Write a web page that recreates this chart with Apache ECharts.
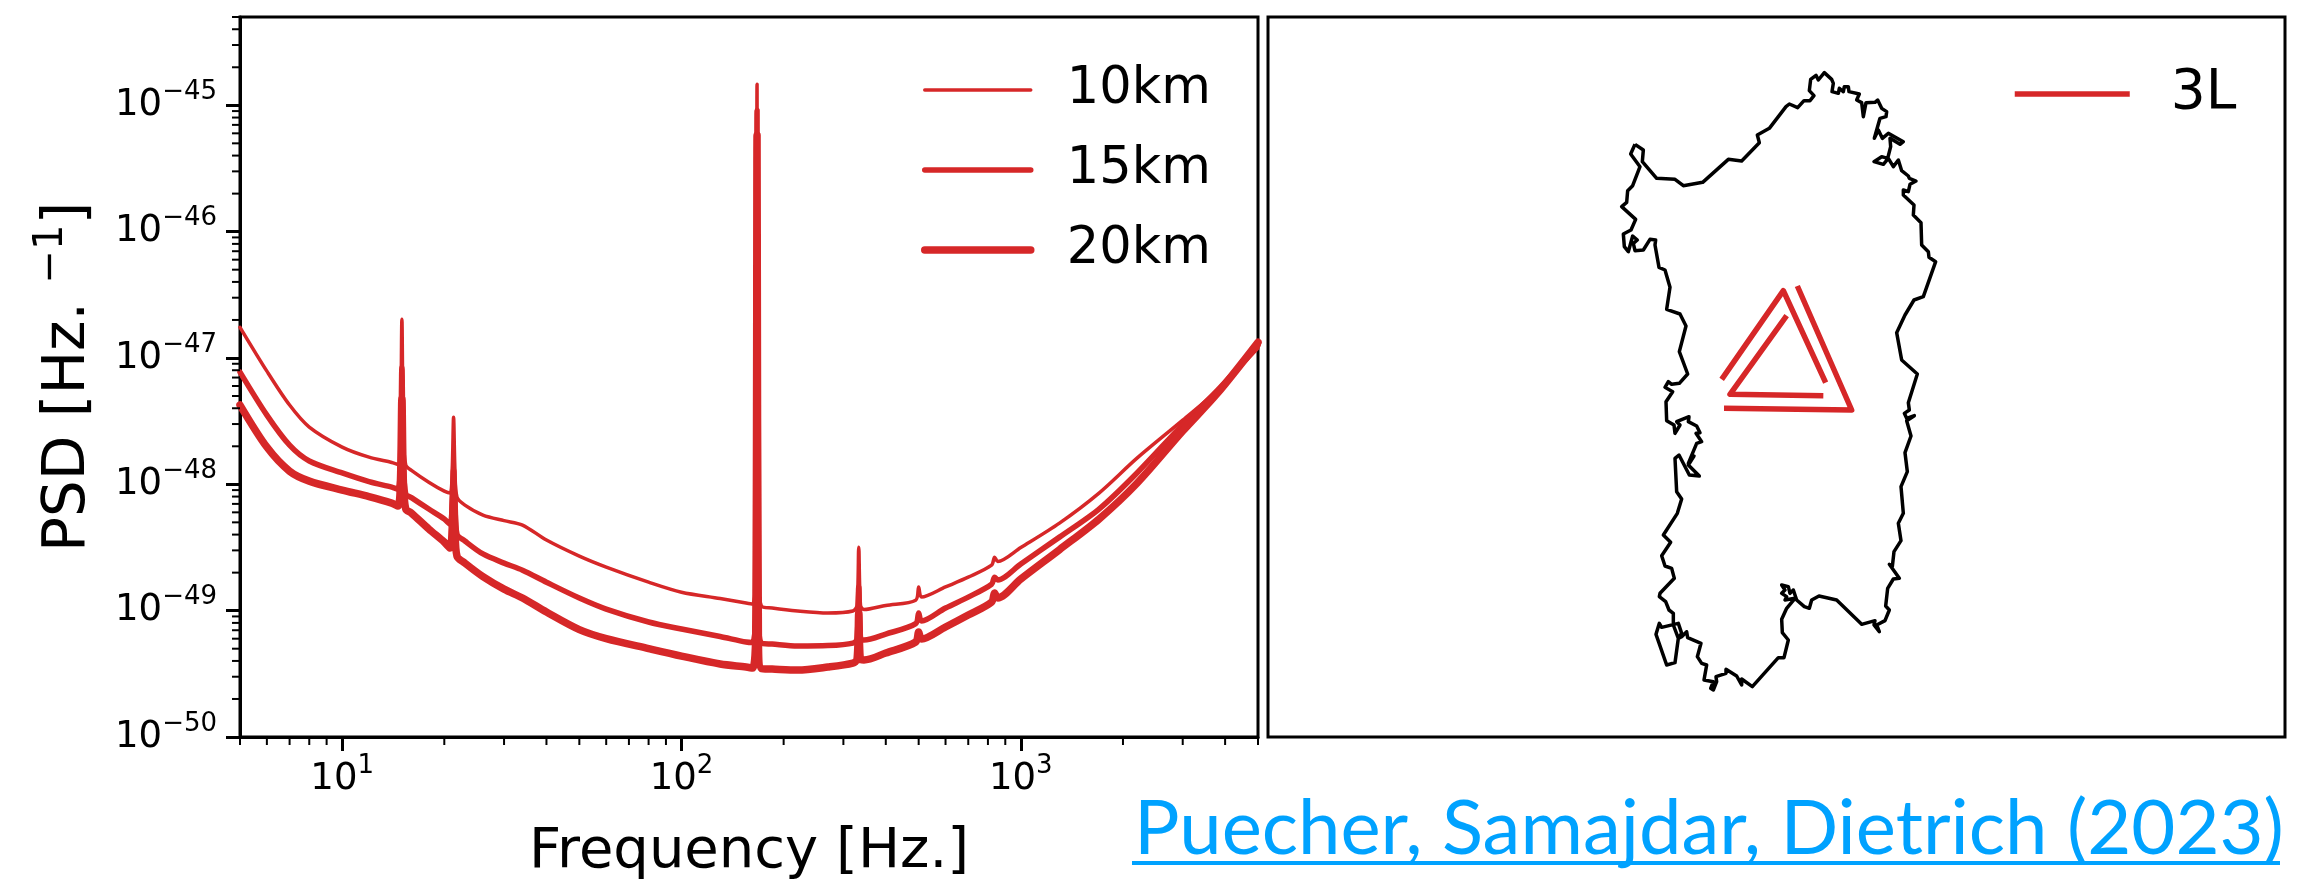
<!DOCTYPE html>
<html><head><meta charset="utf-8">
<style>html,body{margin:0;padding:0;background:#fff}#c{width:2306px;height:879px}</style>
<script src="https://cdn.jsdelivr.net/npm/echarts@6/dist/echarts.min.js"></script>
</head><body><div id="c"></div>
<script>
const frequency=[5,6,7,8,10,12,14,14.6,14.85,15,15.15,15.4,16,18,20,20.8,21.1,21.3,21.5,21.8,23,26,30,34,40,50,60,80,100,130,155,162,165.5,167,168.5,172,185,220,270,320,329,333,337,345,400,490,500,510,600,700,820,837,855,1000,1300,1700,2200,3000,3800,5000];
const psd10km=[1.75e-47,7.87e-48,4.24e-48,2.84e-48,1.97e-48,1.64e-48,1.49e-48,1.44e-48,2.4e-48,2.03e-47,2.4e-48,1.42e-48,1.29e-48,1.04e-48,8.83e-49,8.52e-49,1.3e-48,3.40e-48,1.3e-48,7.92e-49,6.85e-49,5.71e-49,5.16e-49,4.76e-49,3.62e-49,2.70e-49,2.21e-49,1.68e-49,1.40e-49,1.25e-49,1.15e-49,1.13e-49,2.0e-49,1.47e-45,2.0e-49,1.09e-49,1.05e-49,9.93e-50,9.57e-50,9.93e-50,1.1e-49,3.18e-49,1.1e-49,1.02e-49,1.10e-49,1.21e-49,1.54e-49,1.28e-49,1.54e-49,1.84e-49,2.29e-49,2.65e-49,2.45e-49,3.16e-49,4.93e-49,8.52e-49,1.61e-48,3.22e-48,5.56e-48,1.20e-47];
const psd15km=[7.73e-48,3.53e-48,2.04e-48,1.53e-48,1.23e-48,1.05e-48,9.5e-49,9.16e-49,1.5e-48,8.46e-48,1.5e-48,8.36e-49,7.85e-49,6.37e-49,5.31e-49,4.84e-49,7e-49,1.3e-48,7e-49,4.04e-49,3.56e-49,2.81e-49,2.38e-49,2.09e-49,1.68e-49,1.26e-49,1.03e-49,8.13e-50,7.15e-50,6.24e-50,5.65e-50,5.6e-50,1.0e-49,9.1e-46,1.0e-49,5.54e-50,5.44e-50,5.25e-50,5.29e-50,5.54e-50,6e-50,1.54e-49,6e-50,5.85e-50,6.53e-50,7.9e-50,9.57e-50,8.27e-50,1.05e-49,1.28e-49,1.62e-49,1.84e-49,1.75e-49,2.34e-49,3.82e-49,6.37e-49,1.23e-48,2.97e-48,5.56e-48,1.26e-47];
const psd20km=[4.24e-48,1.97e-48,1.27e-48,1.06e-48,9.0e-49,8.0e-49,7.1e-49,6.73e-49,1.05e-48,4.81e-48,1.05e-48,6.37e-49,5.92e-49,4.43e-49,3.49e-49,3.13e-49,4.5e-49,8.5e-49,4.5e-49,2.70e-49,2.38e-49,1.86e-49,1.48e-49,1.26e-49,9.75e-50,7.08e-50,6.01e-50,5.01e-50,4.37e-50,3.78e-50,3.58e-50,3.51e-50,6.5e-50,5.79e-46,6.5e-50,3.48e-50,3.45e-50,3.39e-50,3.58e-50,3.85e-50,4.1e-50,9.57e-50,4.1e-50,4.07e-50,4.62e-50,5.65e-50,6.77e-50,5.96e-50,7.42e-50,9.23e-50,1.17e-49,1.38e-49,1.26e-49,1.78e-49,3.04e-49,5.31e-49,1.02e-48,2.64e-48,5.27e-48,1.33e-47];
const PSD_UNIT=1e-50; // the axis runs in units of 1e-50 Hz^-1, its labels add the exponent back
const PSD_UNIT_EXP=-50;
const minorMultiples=[2,3,4,5,6,7,8,9];
const freqDecades=[0,1,2,3];
const psdDecades=[0,1,2,3,4,5];
const freqRange=[5,5000];
const psdRange=[1,5e5];
// outline of the island and the three detector arms, in map units of the right-hand panel
const sardiniaOutline=[[225,283],[250,300],[247,335],[290,385],[345,388],[370,407],[428,397],[505,328],[545,333],[598,278],[592,255],[628,235],[678,170],[688,162],[713,173],[732,152],[750,152],[762,137],[748,122],[752,88],[768,76],[775,90],[793,68],[815,88],[820,100],[816,125],[835,130],[838,115],[850,125],[853,110],[865,110],[867,125],[898,132],[890,150],[905,158],[910,200],[918,158],[945,157],[953,150],[965,175],[980,185],[978,200],[960,205],[943,265],[955,240],[967,265],[985,250],[1030,275],[1020,283],[990,265],[992,290],[983,325],[965,320],[942,335],[970,343],[985,325],[1000,350],[1015,330],[1025,362],[1045,378],[1048,385],[1068,393],[1050,403],[1045,425],[1030,420],[1030,435],[1062,465],[1060,495],[1083,518],[1085,585],[1105,605],[1107,622],[1127,635],[1090,740],[1062,750],[1068,755],[1035,795],[1010,848],[1025,930],[1072,972],[1045,1058],[1048,1080],[1033,1090],[1040,1105],[1063,1097],[1040,1112],[1053,1158],[1035,1208],[1042,1265],[1023,1310],[1030,1390],[1015,1420],[1023,1472],[1002,1505],[997,1550],[988,1543],[1018,1585],[1000,1587],[983,1615],[977,1668],[988,1680],[975,1712],[950,1725],[958,1745],[942,1725],[945,1712],[905,1723],[830,1650],[777,1638],[755,1650],[748,1675],[733,1670],[710,1650],[700,1620],[690,1630],[685,1610],[665,1605],[675,1620],[665,1630],[680,1640],[675,1650],[705,1645],[680,1675],[665,1708],[667,1748],[685,1770],[672,1823],[655,1823],[577,1910],[545,1887],[545,1905],[530,1878],[498,1858],[498,1870],[468,1880],[470,1895],[460,1920],[452,1915],[460,1895],[432,1890],[440,1845],[425,1840],[412,1820],[423,1780],[383,1763],[380,1745],[365,1760],[355,1765],[345,1838],[320,1845],[288,1753],[298,1720],[305,1732],[355,1720],[365,1750],[355,1765],[340,1725],[340,1690],[327,1680],[317,1655],[298,1640],[300,1630],[343,1585],[335,1555],[315,1548],[305,1517],[332,1477],[310,1455],[352,1390],[365,1347],[350,1325],[345,1225],[357,1215],[388,1275],[418,1278],[385,1245],[402,1218],[385,1240],[410,1180],[425,1175],[408,1150],[420,1148],[410,1128],[385,1115],[387,1100],[350,1115],[360,1125],[345,1150],[342,1125],[320,1112],[318,1055],[338,1025],[315,1012],[325,995],[335,1003],[358,1000],[383,972],[358,905],[378,828],[360,792],[320,778],[330,712],[315,660],[297,652],[285,585],[287,570],[270,568],[250,600],[225,602],[220,580],[232,570],[218,558],[205,605],[193,590],[190,552],[213,540],[227,508],[185,470],[200,457],[203,422],[218,407],[240,350],[212,312],[225,283]];
const arm1=[[485,988],[670,722],[797,998]];
const arm2=[[712,708],[875,1080],[492,1075]];
const arm3=[[680,797],[510,1033],[790,1037]];
const mapXRange=[-876,2175];
const mapYRange=[-99,2061];

const red='#d62728';
const FONT='DejaVu Sans';
const linkBlue='#00a2ff';

function line(name,ys,w){
  return {name:name,type:'line',xAxisIndex:0,yAxisIndex:0,data:frequency.map((f,i)=>[f,ys[i]/PSD_UNIT]),showSymbol:false,symbol:'none',sampling:null,
    smooth:0.3,
    lineStyle:{color:red,width:w,join:'round',cap:'round'},itemStyle:{color:red},z:3};
}
function mapSeries(name,pts,color,w){
  return {name:name,type:'line',xAxisIndex:1,yAxisIndex:1,data:pts,showSymbol:false,symbol:'none',
    lineStyle:{color:color,width:w,join:'round',cap:'butt'},itemStyle:{color:color},z:3};
}
const xMinor=[];freqDecades.forEach(d=>minorMultiples.forEach(m=>{const v=m*Math.pow(10,d);if(v>=freqRange[0]&&v<=freqRange[1])xMinor.push(v);}));
const yMinor=[];psdDecades.forEach(d=>minorMultiples.forEach(m=>{const v=m*Math.pow(10,d);if(v<=psdRange[1])yMinor.push(v);}));

const tickRich={a:{fontSize:37,fontFamily:FONT,color:'#000',verticalAlign:'middle'},
                b:{fontSize:26,fontFamily:FONT,color:'#000',verticalAlign:'middle',padding:[0,0,26,0]}};
const legendItem=(n,w)=>({name:n,lineStyle:{width:w,color:red},itemStyle:{opacity:0}});
const option={
  animation:false,backgroundColor:'#fff',
  grid:[{left:240,top:17,width:1018,height:720,show:true,borderColor:'#000',borderWidth:3,backgroundColor:'#fff',outerBoundsMode:'none',containLabel:false},
        {left:1268,top:17,width:1017,height:720,show:true,borderColor:'#000',borderWidth:3,backgroundColor:'#fff',outerBoundsMode:'none',containLabel:false}],
  xAxis:[{type:'log',logBase:10,gridIndex:0,min:freqRange[0],max:freqRange[1],splitLine:{show:false},
      axisLine:{show:true,lineStyle:{color:'#000',width:3}},axisTick:{show:true,length:14,lineStyle:{color:'#000',width:3}},minorTick:{show:false},
      axisLabel:{margin:16,rich:tickRich,formatter:v=>'{a|10}{b|'+Math.round(Math.log10(v))+'}',showMinLabel:false,showMaxLabel:false},
      name:'Frequency [Hz.]',nameLocation:'middle',nameGap:87,nameTextStyle:{fontFamily:FONT,fontSize:56,color:'#000'}},
    {type:'value',gridIndex:1,min:mapXRange[0],max:mapXRange[1],show:false}],
  yAxis:[{type:'log',logBase:10,gridIndex:0,min:psdRange[0],max:psdRange[1],splitLine:{show:false},
      axisLine:{show:true,lineStyle:{color:'#000',width:3}},axisTick:{show:true,length:14,lineStyle:{color:'#000',width:3}},minorTick:{show:false},
      axisLabel:{margin:23,rich:tickRich,showMaxLabel:false,formatter:v=>'{a|10}{b|\u2212'+Math.abs(Math.round(Math.log10(v))+PSD_UNIT_EXP)+'}'},
      name:'{n|PSD [Hz. }{s|\u22121}{n|]}',nameLocation:'middle',nameGap:134,nameRotate:90,
      nameTextStyle:{rich:{n:{fontFamily:FONT,fontSize:58,color:'#000',verticalAlign:'middle'},s:{fontFamily:FONT,fontSize:40,color:'#000',verticalAlign:'middle',padding:[0,0,34,0]}}}},
    {type:'value',gridIndex:1,min:mapYRange[0],max:mapYRange[1],inverse:true,show:false}],
  legend:[{orient:'vertical',left:921,top:60,padding:0,itemWidth:106,itemHeight:30,itemGap:20,data:[legendItem('10km',3.5),legendItem('15km',5.5),legendItem('20km',7.5)],
      textStyle:{fontFamily:FONT,fontSize:51,color:'#000',padding:[0,0,0,31],lineHeight:60},selectedMode:false},
    {orient:'vertical',left:2012,top:64,padding:0,itemWidth:115,itemHeight:30,data:[legendItem('3L',5.5)],
      textStyle:{fontFamily:FONT,fontSize:55,color:'#000',padding:[0,0,0,36],lineHeight:60},selectedMode:false}],
  graphic:[
    {type:'text',left:1134,top:791,style:{text:'Puecher, Samajdar, Dietrich (2023)',fontFamily:'Lato',fontSize:76,fill:linkBlue},z:5},
    {type:'rect',left:1132,top:861,shape:{width:1148,height:4},style:{fill:linkBlue},z:5}
  ],
  series:[
    line('10km',psd10km,3.5),line('15km',psd15km,5.5),line('20km',psd20km,7.5),
    {type:'custom',xAxisIndex:0,yAxisIndex:0,silent:true,clip:false,z:4,encode:{x:0,y:1},data:xMinor.map(v=>[v,psdRange[0]]),
      renderItem:(p,api)=>{const c=api.coord([api.value(0),psdRange[0]]);return {type:'line',shape:{x1:c[0],y1:c[1],x2:c[0],y2:c[1]+8},style:{stroke:'#000',lineWidth:2}};}},
    {type:'custom',xAxisIndex:0,yAxisIndex:0,silent:true,clip:false,z:4,encode:{x:0,y:1},data:yMinor.map(v=>[freqRange[0],v]),
      renderItem:(p,api)=>{const c=api.coord([freqRange[0],api.value(1)]);return {type:'line',shape:{x1:c[0]-8,y1:c[1],x2:c[0],y2:c[1]},style:{stroke:'#000',lineWidth:2}};}},
    mapSeries('Sardinia',sardiniaOutline,'#000',3.5),
    mapSeries('3L',arm1,red,5.5),mapSeries('arm2',arm2,red,5.5),mapSeries('arm3',arm3,red,5.5)
  ]
};
const chart=echarts.init(document.getElementById('c'),null,{renderer:'canvas'});
chart.setOption(option);
</script></body></html>
